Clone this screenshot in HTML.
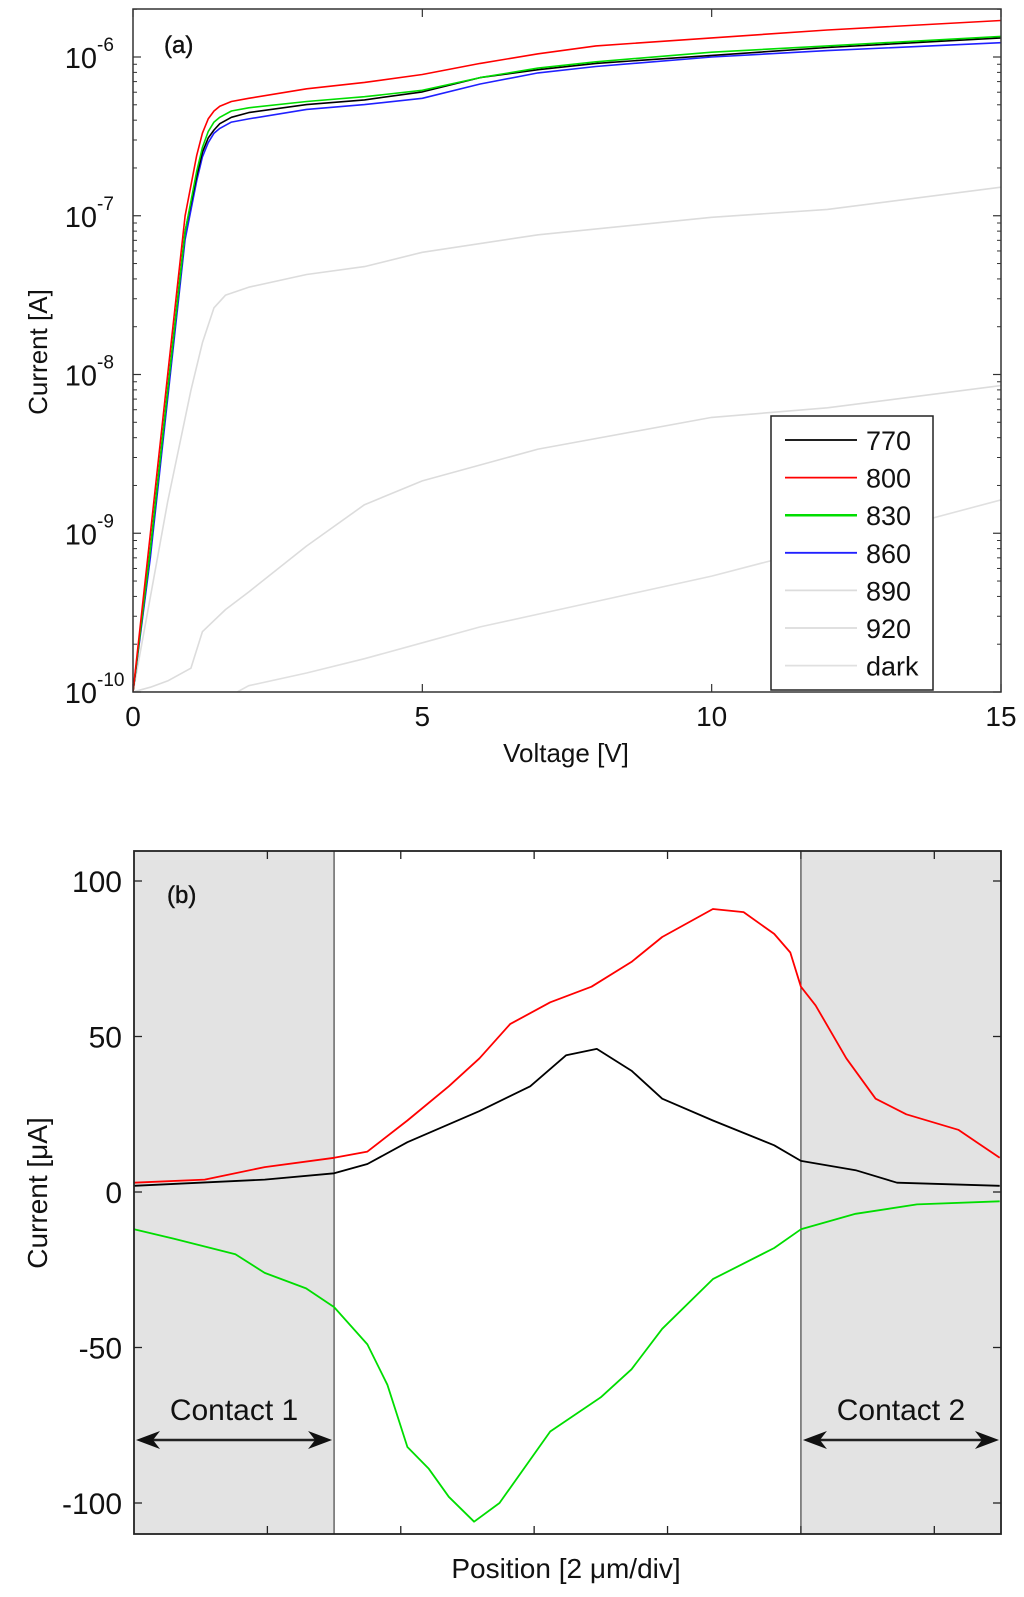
<!DOCTYPE html>
<html><head><meta charset="utf-8"><style>
html,body{margin:0;padding:0;background:#fff;}
svg{display:block;font-family:"Liberation Sans",Arial,sans-serif;}
</style></head><body>
<svg id="fig" width="1024" height="1597" viewBox="0 0 1024 1597" xmlns="http://www.w3.org/2000/svg">
<g id="pa"></g>
<g id="pb"></g>
</svg>
<script>
// ---------- Panel (a) data: voltage [V] vs log10(current [A]) ----------
const vA = [0, 0.3, 0.6, 0.9, 1.1, 1.2, 1.3, 1.4, 1.5, 1.7, 2, 3, 4, 5, 6, 7, 8, 10, 12, 15];
const logI770 = [-10, -9.1, -8.1, -7.1, -6.75, -6.6, -6.51, -6.46, -6.42, -6.38, -6.35, -6.3, -6.27, -6.22, -6.13, -6.08, -6.04, -5.99, -5.94, -5.88];
const logI800 = [-10, -9.0, -8.0, -7.0, -6.62, -6.48, -6.39, -6.34, -6.31, -6.28, -6.26, -6.2, -6.16, -6.11, -6.04, -5.98, -5.93, -5.88, -5.83, -5.77];
const logI830 = [-10, -9.1, -8.1, -7.1, -6.72, -6.57, -6.47, -6.41, -6.38, -6.34, -6.32, -6.28, -6.25, -6.21, -6.13, -6.07, -6.03, -5.97, -5.93, -5.87];
const logI860 = [-10, -9.15, -8.15, -7.15, -6.78, -6.63, -6.54, -6.48, -6.45, -6.41, -6.39, -6.33, -6.3, -6.26, -6.17, -6.1, -6.06, -6.0, -5.96, -5.91];
const vG = [0, 0.3, 0.6, 1.0, 1.2, 1.4, 1.6, 2, 3, 4, 5, 7, 10, 12, 15];
const logI890 = [-10, -9.4, -8.8, -8.1, -7.8, -7.58, -7.5, -7.45, -7.37, -7.32, -7.23, -7.12, -7.01, -6.96, -6.82];
const logI920 = [-10, -9.97, -9.93, -9.85, -9.62, -9.55, -9.48, -9.37, -9.08, -8.82, -8.67, -8.47, -8.27, -8.21, -8.07];
const vD = [0, 1, 1.8, 2, 3, 4, 5, 6, 8, 10, 12, 15];
const logIdark = [-10, -10, -10, -9.96, -9.88, -9.79, -9.69, -9.59, -9.43, -9.27, -9.08, -8.79];
const xTicksA = [0, 5, 10, 15];
const yExpA = [-10, -9, -8, -7, -6];
const legendLabels = ["770", "800", "830", "860", "890", "920", "dark"];

// ---------- Panel (b) data: position [div] vs current [uA] ----------
const posRed = [0, 0.53, 0.98, 1.5, 1.75, 2.05, 2.36, 2.59, 2.82, 3.12, 3.43, 3.73, 3.96, 4.34, 4.57, 4.8, 4.92, 5.0, 5.11, 5.34, 5.56, 5.79, 6.18, 6.49];
const curRed = [3, 4, 8, 11, 13, 23, 34, 43, 54, 61, 66, 74, 82, 91, 90, 83, 77, 66, 60, 43, 30, 25, 20, 11];
const posBlack = [0, 0.98, 1.5, 1.75, 2.05, 2.59, 2.97, 3.24, 3.47, 3.73, 3.96, 4.34, 4.8, 5.0, 5.41, 5.72, 6.49];
const curBlack = [2, 4, 6, 9, 16, 26, 34, 44, 46, 39, 30, 23, 15, 10, 7, 3, 2];
const posGreen = [0, 0.3, 0.76, 0.98, 1.29, 1.5, 1.75, 1.9, 2.05, 2.21, 2.36, 2.55, 2.74, 3.12, 3.5, 3.73, 3.96, 4.34, 4.8, 5.0, 5.41, 5.87, 6.49];
const curGreen = [-12, -15, -20, -26, -31, -37, -49, -62, -82, -89, -98, -106, -100, -77, -66, -57, -44, -28, -18, -12, -7, -4, -3];
const yTicksB = [-100, -50, 0, 50, 100];
const xDivTicks = [1, 2, 3, 4, 5, 6];
const contacts = [[0, 1.5, "Contact 1"], [5, 6.5, "Contact 2"]];

const NS = "http://www.w3.org/2000/svg";
function mk(parent, tag, attrs, text) {
  const e = document.createElementNS(NS, tag);
  for (const k in attrs) e.setAttribute(k, attrs[k]);
  if (text !== undefined) e.textContent = text;
  parent.appendChild(e);
  return e;
}

// ---- Panel A ----
const A = {l: 133, r: 1001, t: 9, b: 692};
const ax = v => A.l + (v - 0) / 15 * (A.r - A.l);
const ay = lg => A.b - (lg + 10) * 158.75;
const pa = document.getElementById('pa');
function pathA(xs, ys) { return xs.map((x, i) => (i ? 'L' : 'M') + ax(x).toFixed(1) + ',' + ay(ys[i]).toFixed(1)).join(' '); }

const clipA = mk(pa, 'clipPath', {id: 'ca'});
mk(clipA, 'rect', {x: A.l, y: A.t, width: A.r - A.l, height: A.b - A.t});
const seriesA = [
  [vD, logIdark, '#e0e0e0', 'curve-dark'],
  [vG, logI920, '#dcdcdc', 'curve-920'],
  [vG, logI890, '#dcdcdc', 'curve-890'],
  [vA, logI860, '#2020ff', 'curve-860'],
  [vA, logI770, '#000000', 'curve-770'],
  [vA, logI830, '#00dd00', 'curve-830'],
  [vA, logI800, '#ff0000', 'curve-800']
];
const gA = mk(pa, 'g', {'clip-path': 'url(#ca)'});
seriesA.forEach(s => {
  const p = mk(gA, 'path', {d: pathA(s[0], s[1]), fill: 'none', stroke: s[2], 'stroke-width': 1.6, 'stroke-linejoin': 'round'});
  
  
});
const boxA = mk(pa, 'rect', {x: A.l, y: A.t, width: A.r - A.l, height: A.b - A.t, fill: 'none', stroke: '#333', 'stroke-width': 1.5});


xTicksA.forEach(v => {
  mk(pa, 'line', {x1: ax(v), x2: ax(v), y1: A.b, y2: A.b - 8, stroke: '#333', 'stroke-width': 1.2});
  mk(pa, 'line', {x1: ax(v), x2: ax(v), y1: A.t, y2: A.t + 8, stroke: '#333', 'stroke-width': 1.2});
  const t = mk(pa, 'text', {x: ax(v), y: A.b + 34, 'font-size': 28, 'text-anchor': 'middle', fill: '#111'}, String(v));
  
  
});
yExpA.forEach(e => {
  const y = ay(e);
  mk(pa, 'line', {x1: A.l, x2: A.l + 8, y1: y, y2: y, stroke: '#333', 'stroke-width': 1.2});
  mk(pa, 'line', {x1: A.r, x2: A.r - 8, y1: y, y2: y, stroke: '#333', 'stroke-width': 1.2});
  for (let m = 2; m <= 9; m++) {
    const ym = ay(e + Math.log10(m));
    if (ym < A.t) continue;
    mk(pa, 'line', {x1: A.l, x2: A.l + 4, y1: ym, y2: ym, stroke: '#333', 'stroke-width': 1});
    mk(pa, 'line', {x1: A.r, x2: A.r - 4, y1: ym, y2: ym, stroke: '#333', 'stroke-width': 1});
  }
  const t = mk(pa, 'text', {x: 97, y: y + 11, 'font-size': 29, 'text-anchor': 'end', fill: '#111'}, '10');
  
  
  mk(pa, 'text', {x: 97, y: y - 6, 'font-size': 19, fill: '#111'}, String(e));
});
const ylA = mk(pa, 'text', {x: 0, y: 0, 'font-size': 26, 'text-anchor': 'middle', fill: '#111', transform: 'translate(47,352) rotate(-90)'}, 'Current [A]');


const xlA = mk(pa, 'text', {x: 566, y: 762, 'font-size': 26, 'text-anchor': 'middle', fill: '#111'}, 'Voltage [V]');


const labA = mk(pa, 'text', {x: 164, y: 53, 'font-size': 24, fill: '#111', stroke: '#111', 'stroke-width': 0.4}, '(a)');



// legend
const lg = mk(pa, 'g', {});


mk(lg, 'rect', {x: 771, y: 416, width: 162, height: 274, fill: '#fff', stroke: '#222', 'stroke-width': 1.5});
const legColors = ['#000000', '#ff0000', '#00dd00', '#2020ff', '#dcdcdc', '#dcdcdc', '#e0e0e0'];
legendLabels.forEach((lab, i) => {
  const y = 440 + i * 37.6;
  const g = mk(lg, 'g', {});
  
  
  mk(g, 'line', {x1: 785, x2: 857, y1: y, y2: y, stroke: legColors[i], 'stroke-width': i === 2 ? 2.5 : 1.8});
  mk(g, 'text', {x: 866, y: y + 10, 'font-size': 27, fill: '#111'}, lab);
});

// ---- Panel B ----
const B = {l: 134, r: 1001, t: 851, b: 1534};
const bx = d => B.l + d / 6.5 * (B.r - B.l);
const by = v => 1192 - v * 3.11;
const pb = document.getElementById('pb');
contacts.forEach((c, i) => {
  const r = mk(pb, 'rect', {x: bx(c[0]), y: B.t, width: bx(c[1]) - bx(c[0]), height: B.b - B.t, fill: '#e3e3e3'});
  
  
});
contacts.forEach(c => {
  const xe = bx(c[0] === 0 ? c[1] : c[0]);
  mk(pb, 'line', {x1: xe, x2: xe, y1: B.t, y2: B.b, stroke: '#444', 'stroke-width': 1.2});
});
const seriesB = [
  [posGreen, curGreen, '#00dd00', 'curve-green'],
  [posBlack, curBlack, '#000000', 'curve-black'],
  [posRed, curRed, '#ff0000', 'curve-red']
];
seriesB.forEach(s => {
  const d = s[0].map((x, i) => (i ? 'L' : 'M') + bx(x).toFixed(1) + ',' + by(s[1][i]).toFixed(1)).join(' ');
  const p = mk(pb, 'path', {d: d, fill: 'none', stroke: s[2], 'stroke-width': 1.8, 'stroke-linejoin': 'round'});
  
  
});
const boxB = mk(pb, 'rect', {x: B.l, y: B.t, width: B.r - B.l, height: B.b - B.t, fill: 'none', stroke: '#222', 'stroke-width': 1.8});


xDivTicks.forEach(d => {
  mk(pb, 'line', {x1: bx(d), x2: bx(d), y1: B.b, y2: B.b - 8, stroke: '#222', 'stroke-width': 1.3});
  mk(pb, 'line', {x1: bx(d), x2: bx(d), y1: B.t, y2: B.t + 8, stroke: '#222', 'stroke-width': 1.3});
});
yTicksB.forEach(v => {
  mk(pb, 'line', {x1: B.l, x2: B.l + 8, y1: by(v), y2: by(v), stroke: '#222', 'stroke-width': 1.3});
  mk(pb, 'line', {x1: B.r, x2: B.r - 8, y1: by(v), y2: by(v), stroke: '#222', 'stroke-width': 1.3});
  const t = mk(pb, 'text', {x: 122, y: by(v) + 11, 'font-size': 30, 'text-anchor': 'end', fill: '#111'}, String(v));
  
  
});
contacts.forEach((c, i) => {
  const g = mk(pb, 'g', {});
  
  
  const x1 = bx(c[0]) + 2, x2 = bx(c[1]) - 2, y = 1440;
  mk(g, 'line', {x1: x1 + 14, x2: x2 - 14, y1: y, y2: y, stroke: '#222', 'stroke-width': 2.5});
  mk(g, 'polygon', {points: `${x1},${y} ${x1 + 24},${y - 9} ${x1 + 17},${y} ${x1 + 24},${y + 9}`, fill: '#111'});
  mk(g, 'polygon', {points: `${x2},${y} ${x2 - 24},${y - 9} ${x2 - 17},${y} ${x2 - 24},${y + 9}`, fill: '#111'});
  mk(g, 'text', {x: (x1 + x2) / 2, y: 1420, 'font-size': 30, 'text-anchor': 'middle', fill: '#111'}, c[2]);
});
const ylB = mk(pb, 'text', {x: 0, y: 0, 'font-size': 28, 'text-anchor': 'middle', fill: '#111', transform: 'translate(47,1193) rotate(-90)'}, 'Current [\u03bcA]');


const xlB = mk(pb, 'text', {x: 566, y: 1578, 'font-size': 28, 'text-anchor': 'middle', fill: '#111'}, 'Position [2 \u03bcm/div]');


const labB = mk(pb, 'text', {x: 167, y: 903, 'font-size': 24, fill: '#111', stroke: '#111', 'stroke-width': 0.4}, '(b)');


</script>
</body></html>
